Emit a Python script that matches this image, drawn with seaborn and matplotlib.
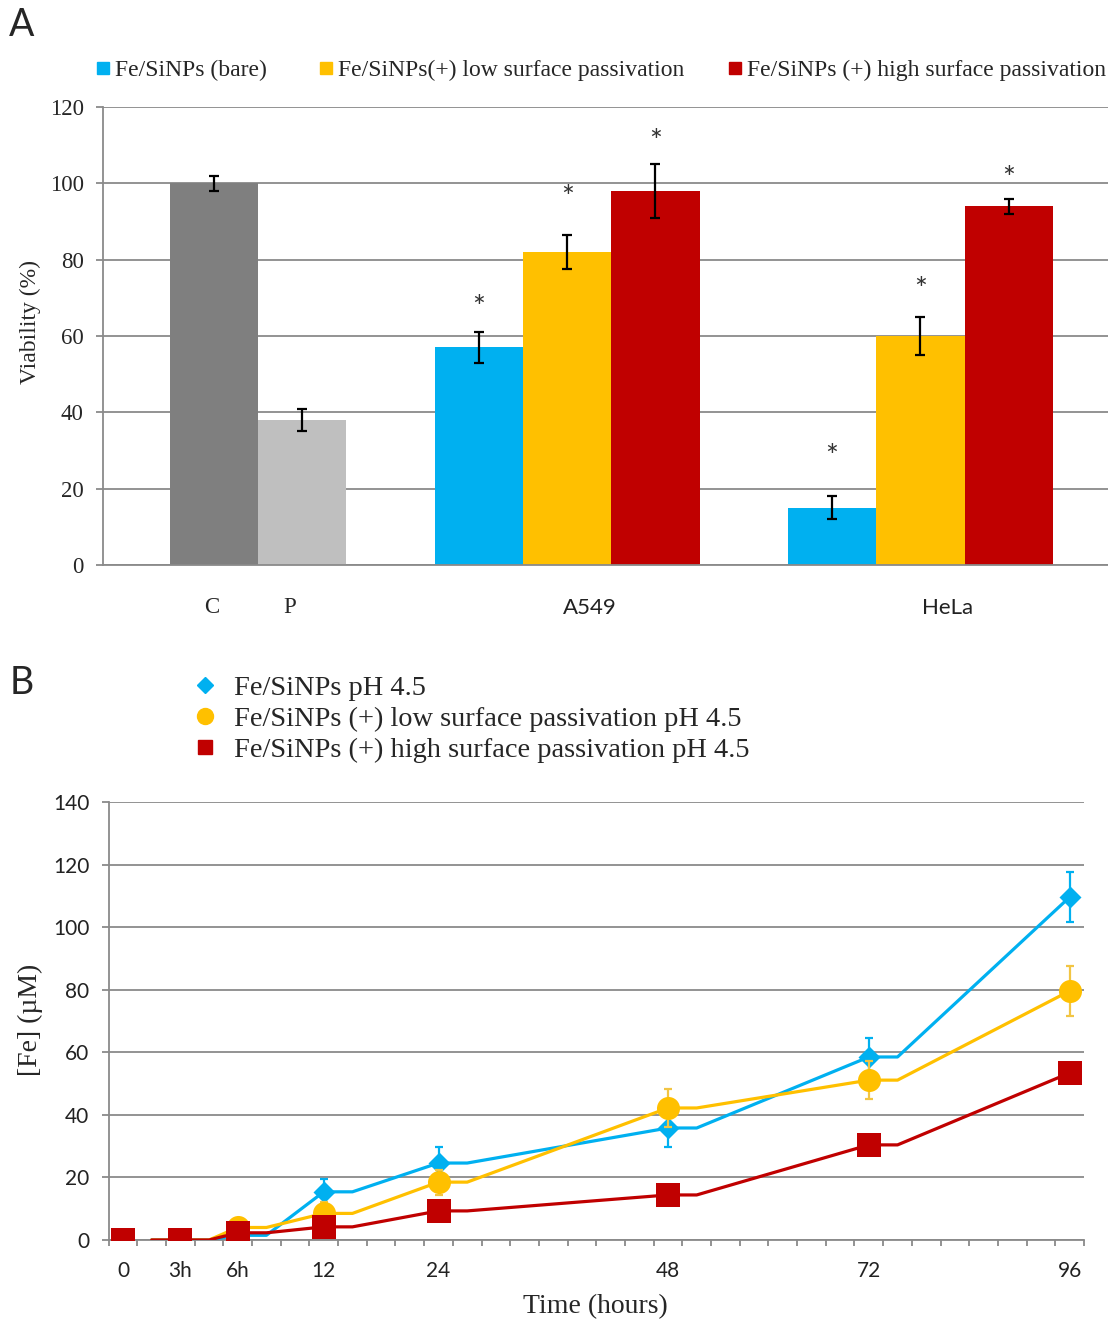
import matplotlib
matplotlib.use("Agg")
import matplotlib.pyplot as plt
import numpy as np
import pandas as pd
import seaborn as sns
from matplotlib.lines import Line2D
from matplotlib.ticker import FixedLocator, MultipleLocator

# ---------------- data: panel A (cell viability, %) ----------------
a_control_labels = ["C", "P"]
a_control_values = [100, 38]
a_control_errors = [2, 3]
a_series_names = ["Fe/SiNPs (bare)",
                  "Fe/SiNPs(+) low surface passivation",
                  "Fe/SiNPs (+) high surface passivation"]
a_cell_lines = ["A549", "HeLa"]
a_a549_values = [57, 82, 98]
a_a549_errors = [4, 4.5, 7]
a_a549_star = [67.9, 96.7, 111.4]
a_hela_values = [15, 60, 94]
a_hela_errors = [3, 5, 2]
a_hela_star = [29, 72.7, 101.9]

# ---------------- data: panel B (iron release, uM) ----------------
b_time_labels = ["0", "3h", "6h", "12", "24", "48", "72", "96"]
b_series_names = ["Fe/SiNPs pH 4.5",
                  "Fe/SiNPs (+) low surface passivation pH 4.5",
                  "Fe/SiNPs (+) high surface passivation pH 4.5"]
b_bare = [0, 0, 1.5, 15.4, 24.6, 35.8, 58.5, 109.6]
b_bare_err = [0, 0, 1, 4, 5, 6, 6, 8]
b_low = [0, 0, 4, 8.5, 18.5, 42.2, 51.1, 79.6]
b_low_err = [0, 0, 1, 3.5, 4, 6, 6, 8]
b_high = [0, 0, 2.3, 4.2, 9.3, 14.4, 30.4, 53.4]
b_high_err = [0, 0, 0.5, 1, 1.5, 1.5, 2, 2]

# ---------------- style ----------------
sns.set_style("white")
SERIF = ["Liberation Serif", "DejaVu Serif"]
SANS = ["Lato", "DejaVu Sans"]
plt.rcParams["font.family"] = SERIF
GRID = "#8a8a8a"
BLUE, YELLOW, RED = "#00B0F0", "#FFC000", "#C00000"
DGREY, LGREY = "#7F7F7F", "#BFBFBF"
series_colors = [BLUE, YELLOW, RED]

W, H = 1108, 1322
fig = plt.figure(figsize=(W / 100, H / 100), dpi=100)

def fx(px):
    return px / W

def fy(py):
    return 1 - py / H

# ======================= Panel A =======================
axA = fig.add_axes([fx(103), fy(565), fx(1005), 458 / H])
rows = []
for i, lab in enumerate(a_control_labels):
    rows.append(dict(pos=1 + i, value=a_control_values[i], err=a_control_errors[i],
                     kind=lab, star=np.nan))
for g, (vals, errs, stars) in enumerate([(a_a549_values, a_a549_errors, a_a549_star),
                                         (a_hela_values, a_hela_errors, a_hela_star)]):
    for i, name in enumerate(a_series_names):
        rows.append(dict(pos=4 + 4 * g + i, value=vals[i], err=errs[i], kind=name,
                         star=stars[i]))
dfA = pd.DataFrame(rows)
palA = {"C": DGREY, "P": LGREY}
palA.update(dict(zip(a_series_names, series_colors)))

sns.barplot(data=dfA, x="pos", y="value", hue="kind", palette=palA,
            native_scale=True, dodge=False, width=1.0, errorbar=None,
            legend=False, saturation=1, linewidth=0, ax=axA, zorder=2)
axA.errorbar(dfA["pos"], dfA["value"], yerr=dfA["err"], fmt="none",
             ecolor="black", elinewidth=1.6, capsize=3.6, capthick=1.6, zorder=3)
for _, r in dfA.dropna(subset=["star"]).iterrows():
    axA.text(r["pos"], r["star"], "*", ha="center", va="center_baseline",
             fontsize=22, family=SANS, color="#333333", zorder=4)

axA.set_xlim(-0.257, 11.125)
axA.set_ylim(0, 120)
axA.yaxis.set_major_locator(MultipleLocator(20))
axA.set_axisbelow(True)
axA.grid(axis="y", color=GRID, linewidth=1.3)
axA.grid(axis="x", visible=False)
for s in ["top", "right"]:
    axA.spines[s].set_visible(False)
for s in ["left", "bottom"]:
    axA.spines[s].set_color(GRID)
    axA.spines[s].set_linewidth(1.3)
axA.set_xticks([])
axA.tick_params(axis="y", direction="out", length=5, width=1.3, color=GRID,
                pad=9, labelsize=16.5, left=True)
for t in axA.get_yticklabels():
    t.set_family(SERIF)
axA.set_xlabel("")
axA.set_ylabel("Viability (%)", fontsize=17, family=SERIF)
axA.yaxis.set_label_coords(-0.0726, 0.53)
axA.yaxis.label.set_va("center")

# category labels
for lab, xpos in zip(a_control_labels, [0.97, 1.86]):
    axA.text(xpos, -0.092, lab, transform=axA.get_xaxis_transform(), ha="center",
             va="center", fontsize=16.5, family=SERIF)
for lab, xpos in zip(a_cell_lines, [5.26, 9.31]):
    axA.text(xpos, -0.094, lab, transform=axA.get_xaxis_transform(), ha="center",
             va="center", fontsize=16, family=SANS, color="#222222")

# legend of panel A: one entry per series, placed as in the reference
legend_x = [97, 320, 729]
for c, name, lx in zip(series_colors, a_series_names, legend_x):
    h = Line2D([], [], marker="s", linestyle="none", color=c, markersize=8.5)
    leg = fig.legend([h], [name], loc="center left",
                     bbox_to_anchor=(fx(lx), fy(70)), frameon=False,
                     prop={"family": SERIF, "size": 17},
                     handlelength=0.55, handletextpad=0.2,
                     borderpad=0, borderaxespad=0)

# ======================= Panel B =======================
axB = fig.add_axes([fx(108.6), fy(1240), fx(1084 - 108.6), 438 / H])
# category slots of the original (Excel) time axis
b_slots = [0, 2, 4, 7, 11, 19, 26, 33]

b_vals = [b_bare, b_low, b_high]
b_errs = [b_bare_err, b_low_err, b_high_err]
b_markers = ["D", "o", "s"]
b_msize = [11.2, 16.6, 17]
b_ecolors = [BLUE, "#F2C543", RED]

line_rows = []
n = len(b_slots)
for name, vals in zip(b_series_names, b_vals):
    for i in range(n):
        if i > 0:
            line_rows.append(dict(x=b_slots[i], y=vals[i], series=name))
        if i < n - 1:
            line_rows.append(dict(x=b_slots[i] + 1, y=vals[i], series=name))
dfL = pd.DataFrame(line_rows)

for j, name in enumerate(b_series_names):
    sub = dfL[dfL["series"] == name]
    sns.lineplot(data=sub, x="x", y="y", sort=False, estimator=None,
                 color=series_colors[j], linewidth=2.3, ax=axB, zorder=3 + j)
    axB.errorbar(b_slots, b_vals[j], yerr=b_errs[j], fmt="none",
                 ecolor=b_ecolors[j], elinewidth=1.6, capsize=3.2,
                 capthick=1.6, zorder=3 + j)
    sns.scatterplot(x=b_slots, y=b_vals[j], marker=b_markers[j],
                    s=b_msize[j] ** 2, color=series_colors[j], linewidth=0,
                    ax=axB, zorder=3.5 + j)

axB.set_xlim(-0.5, 33.5)
axB.set_ylim(0, 140)
axB.yaxis.set_major_locator(MultipleLocator(20))
axB.set_axisbelow(True)
axB.grid(axis="y", color=GRID, linewidth=1.3)
axB.grid(axis="x", visible=False)
for s in ["top", "right"]:
    axB.spines[s].set_visible(False)
for s in ["left", "bottom"]:
    axB.spines[s].set_color(GRID)
    axB.spines[s].set_linewidth(1.3)
axB.xaxis.set_major_locator(FixedLocator(b_slots))
axB.set_xticklabels(b_time_labels)
axB.xaxis.set_minor_locator(FixedLocator(np.arange(-0.5, 34, 1.0)))
axB.tick_params(axis="x", which="major", length=0, pad=15, labelsize=15,
                labelcolor="#222222")
axB.tick_params(axis="x", which="minor", direction="out", length=4, width=1.3,
                color=GRID, bottom=True)
axB.tick_params(axis="y", direction="out", length=5, width=1.3, color=GRID,
                pad=9, labelsize=15, labelcolor="#222222", left=True)
for t in axB.get_xticklabels() + axB.get_yticklabels():
    t.set_family(SANS)
axB.set_xlabel("Time (hours)", fontsize=20, family=SERIF)
axB.xaxis.set_label_coords(0.4987, -0.153)
axB.xaxis.label.set_va("center")
axB.set_ylabel("[Fe] (µM)", fontsize=20, family=SERIF)
axB.yaxis.set_label_coords(-0.0806, 0.502)
axB.yaxis.label.set_va("center")

handlesB = [Line2D([], [], marker="D", linestyle="none", color=BLUE, markersize=8),
            Line2D([], [], marker="o", linestyle="none", color=YELLOW, markersize=11.5),
            Line2D([], [], marker="s", linestyle="none", color=RED, markersize=10)]
fig.legend(handlesB, b_series_names, loc="upper left",
           bbox_to_anchor=(fx(194), fy(675)), ncol=1, frameon=False,
           prop={"family": SERIF, "size": 20.4},
           handlelength=0.8, handletextpad=0.6, labelspacing=0.19,
           borderpad=0, borderaxespad=0)

# panel letters
fig.text(fx(22), fy(25), "A", ha="center", va="center", fontsize=27, family=SANS)
fig.text(fx(22), fy(683), "B", ha="center", va="center", fontsize=27, family=SANS)

fig.savefig("out.png", dpi=100)
